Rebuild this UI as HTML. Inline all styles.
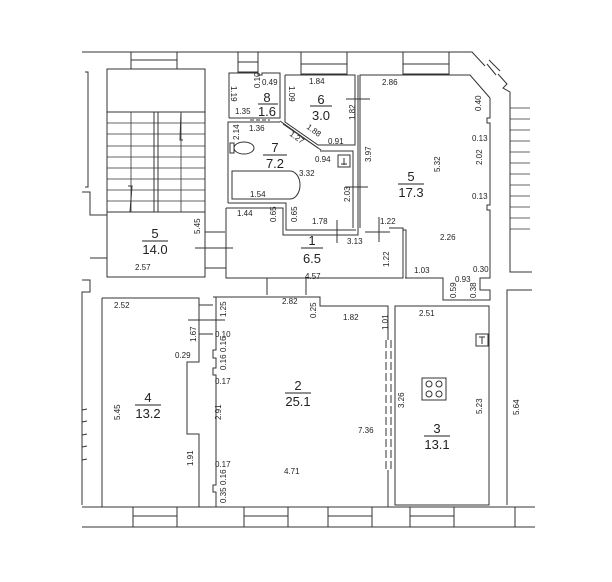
<!DOCTYPE html>
<html><head><meta charset="utf-8"><style>
html,body{margin:0;padding:0;background:#fff}
svg{display:block}
text{font-family:"Liberation Sans",sans-serif;fill:#222}
.s{font-size:8px}
.b{font-size:13px;font-family:"Liberation Serif",serif}
</style></head><body>
<svg width="612" height="582" viewBox="0 0 612 582" xmlns="http://www.w3.org/2000/svg">
<g fill="none" stroke="#333" stroke-width="1">
<polyline points="82,52 472,52 485,66"/>
<polyline points="498,74 507,84 503,88 510,92 510,272 532,272"/>
<line x1="487" y1="64" x2="496" y2="75"/><line x1="489" y1="60" x2="500" y2="71"/>
<g stroke-width="0.8">
<line x1="510" y1="108" x2="530" y2="108"/><line x1="510" y1="119" x2="530" y2="119"/>
<line x1="510" y1="130" x2="530" y2="130"/><line x1="510" y1="141" x2="530" y2="141"/>
<line x1="510" y1="152" x2="530" y2="152"/><line x1="510" y1="163" x2="530" y2="163"/>
<line x1="510" y1="174" x2="530" y2="174"/><line x1="510" y1="185" x2="530" y2="185"/>
<line x1="510" y1="196" x2="530" y2="196"/><line x1="510" y1="207" x2="530" y2="207"/>
<line x1="510" y1="218" x2="530" y2="218"/><line x1="510" y1="229" x2="530" y2="229"/>
</g>
<polyline points="532,290 507,290 507,505"/>
<line x1="82" y1="527" x2="535" y2="527"/>
<line x1="82" y1="507" x2="535" y2="507"/>
<polyline points="85,72 88,72 88,187 85,187"/>
<polyline points="82,192 90,192 90,215 107,215"/>
<polyline points="90,258 107,258"/><polyline points="82,280 90,280 90,292 82,292 82,505"/>
<rect x="131" y="52" width="46" height="17"/><line x1="131" y1="60" x2="177" y2="60"/>
<rect x="238" y="52" width="20" height="20"/><line x1="238" y1="62" x2="258" y2="62"/>
<rect x="301" y="52" width="46" height="22"/><line x1="301" y1="64" x2="347" y2="64"/>
<rect x="403" y="52" width="46" height="22"/><line x1="403" y1="64" x2="449" y2="64"/>
<rect x="107" y="69" width="98" height="208"/>
<line x1="107" y1="112" x2="205" y2="112"/>
<line x1="107" y1="212" x2="205" y2="212"/>
<g stroke-width="0.8">
<line x1="107" y1="123" x2="205" y2="123"/><line x1="107" y1="134" x2="205" y2="134"/>
<line x1="107" y1="146" x2="205" y2="146"/><line x1="107" y1="157" x2="205" y2="157"/>
<line x1="107" y1="168" x2="205" y2="168"/><line x1="107" y1="179" x2="205" y2="179"/>
<line x1="107" y1="190" x2="205" y2="190"/><line x1="107" y1="201" x2="205" y2="201"/>
<line x1="131" y1="112" x2="131" y2="212"/><line x1="181" y1="112" x2="181" y2="212"/>
</g>
<rect x="154" y="112" width="4" height="100"/>
<polyline points="181,113 180,140 183,140"/><polyline points="130,212 132,186 128,186"/>
<line x1="205" y1="232" x2="225" y2="232"/><line x1="195" y1="248" x2="233" y2="248"/>
<line x1="205" y1="268" x2="226" y2="268"/>
<polyline points="229,118 229,73 258,73 258,75 262,75 262,73 280,73 280,118 229,118"/>
<line x1="250" y1="120" x2="270" y2="120" stroke-dasharray="4,2"/>
<polyline points="285,75 355,75 355,145 318,145 285,122 285,75"/>
<line x1="346" y1="99" x2="370" y2="99"/>
<line x1="280" y1="121" x2="318" y2="148"/><line x1="283" y1="124" x2="321" y2="150"/>
<polyline points="228,203 228,122 280,122"/>
<polyline points="320,151 353,151 353,228"/>
<polyline points="228,203 286,203 286,230 356,230"/>
<rect x="338" y="155" width="12" height="12"/><line x1="344" y1="158" x2="344" y2="165"/><line x1="341" y1="164" x2="347" y2="164"/>
<path d="M232,171 L290,171 A10,14 0 0 1 290,199 L232,199 Z"/>
<rect x="230" y="143" width="4" height="10"/><ellipse cx="244" cy="148" rx="10" ry="6"/>
<line x1="345" y1="187" x2="368" y2="187"/>
<polyline points="226,208 226,278 403,278 403,228 389,228"/>
<polyline points="226,208 283,208 283,235 358,235 358,75"/>
<polyline points="360,228 360,75 470,75 490,98"/>
<line x1="337" y1="220" x2="337" y2="243"/><line x1="379" y1="217" x2="379" y2="242"/>
<line x1="365" y1="232" x2="390" y2="232"/>
<line x1="267" y1="278" x2="267" y2="295"/><line x1="306" y1="278" x2="306" y2="295"/>
<polyline points="490,98 490,118 487,118 487,123 490,123 490,205 487,205 487,210 490,210 490,278 480,278 480,290 490,290 490,300 443,300 443,278 405,278"/>
<polyline points="403,230 406,230 406,278"/>
<polyline points="102,298 199,298 199,362 187,362 187,434 199,434 199,507 102,507 102,298"/>
<line x1="199" y1="305" x2="213" y2="305"/><line x1="188" y1="320" x2="225" y2="320"/><line x1="199" y1="334" x2="213" y2="334"/>
<polyline points="213,297 320,297 320,306 388,306 388,507 216,507 216,492 213,492 213,485 216,485 216,375 213,375 213,368 216,368 216,358 213,358 213,350 216,350 216,297"/>
<line x1="388" y1="340" x2="388" y2="470" stroke="#fff" stroke-width="3"/>
<line x1="386" y1="340" x2="386" y2="470" stroke-dasharray="8,3"/><line x1="391" y1="340" x2="391" y2="470" stroke-dasharray="8,3"/>
<rect x="395" y="306" width="94" height="199"/>
<rect x="476" y="334" width="12" height="12"/><line x1="482" y1="337" x2="482" y2="344"/><line x1="479" y1="337" x2="485" y2="337"/>
<rect x="422" y="378" width="24" height="22"/>
<circle cx="429" cy="384" r="3"/><circle cx="439" cy="384" r="3"/><circle cx="429" cy="394" r="3"/><circle cx="439" cy="394" r="3"/>
<rect x="133" y="507" width="44" height="20"/><line x1="133" y1="516" x2="177" y2="516"/>
<rect x="244" y="507" width="44" height="20"/><line x1="244" y1="516" x2="288" y2="516"/>
<rect x="328" y="507" width="44" height="20"/><line x1="328" y1="516" x2="372" y2="516"/>
<rect x="410" y="507" width="44" height="20"/><line x1="410" y1="516" x2="454" y2="516"/>
<line x1="515" y1="507" x2="515" y2="527"/>
<line x1="82" y1="410" x2="87" y2="409"/><line x1="82" y1="422" x2="87" y2="421"/><line x1="82" y1="435" x2="87" y2="434"/><line x1="82" y1="447" x2="87" y2="446"/><line x1="82" y1="460" x2="87" y2="459"/>
</g>
<g class="b" text-anchor="middle">
<text x="155" y="238">5</text><line x1="142" y1="241" x2="168" y2="241" stroke="#222"/><text x="155" y="254">14.0</text>
<text x="267" y="102">8</text><line x1="258" y1="104" x2="278" y2="104" stroke="#222"/><text x="267" y="116">1.6</text>
<text x="321" y="104">6</text><line x1="310" y1="106" x2="332" y2="106" stroke="#222"/><text x="321" y="120">3.0</text>
<text x="275" y="152">7</text><line x1="263" y1="155" x2="287" y2="155" stroke="#222"/><text x="275" y="168">7.2</text>
<text x="312" y="245">1</text><line x1="301" y1="248" x2="323" y2="248" stroke="#222"/><text x="312" y="263">6.5</text>
<text x="411" y="181">5</text><line x1="398" y1="184" x2="424" y2="184" stroke="#222"/><text x="411" y="197">17.3</text>
<text x="148" y="402">4</text><line x1="135" y1="405" x2="161" y2="405" stroke="#222"/><text x="148" y="418">13.2</text>
<text x="298" y="390">2</text><line x1="285" y1="393" x2="311" y2="393" stroke="#222"/><text x="298" y="406">25.1</text>
<text x="437" y="433">3</text><line x1="424" y1="436" x2="450" y2="436" stroke="#222"/><text x="437" y="449">13.1</text>
</g>
<g class="s">
<text x="135" y="270">2.57</text>
<text x="235" y="114">1.35</text><text x="262" y="85">0.49</text>
<text x="309" y="84">1.84</text><text x="328" y="144">0.91</text>
<text x="249" y="131">1.36</text><text x="315" y="162">0.94</text>
<text x="299" y="176">3.32</text><text x="250" y="197">1.54</text>
<text x="237" y="216">1.44</text><text x="312" y="224">1.78</text><text x="347" y="244">3.13</text>
<text x="380" y="224">1.22</text><text x="305" y="279">4.57</text>
<text x="382" y="85">2.86</text><text x="472" y="141">0.13</text><text x="472" y="199">0.13</text>
<text x="440" y="240">2.26</text><text x="414" y="273">1.03</text><text x="473" y="272">0.30</text><text x="455" y="282">0.93</text>
<text x="114" y="308">2.52</text><text x="282" y="304">2.82</text><text x="343" y="320">1.82</text>
<text x="419" y="316">2.51</text><text x="175" y="358">0.29</text>
<text x="215" y="337">0.10</text><text x="215" y="384">0.17</text><text x="215" y="467">0.17</text>
<text x="284" y="474">4.71</text><text x="358" y="433">7.36</text>
</g>
<g class="s">
<text transform="translate(231,86) rotate(90)">1.19</text>
<text transform="translate(260,88) rotate(-90)">0.10</text>
<text transform="translate(289,86) rotate(90)">1.09</text>
<text transform="translate(355,120) rotate(-90)">1.82</text>
<text transform="translate(306,128) rotate(36)">1.88</text>
<text transform="translate(289,135) rotate(36)">1.27</text>
<text transform="translate(239,140) rotate(-90)">2.14</text>
<text transform="translate(371,162) rotate(-90)">3.97</text>
<text transform="translate(350,202) rotate(-90)">2.03</text>
<text transform="translate(297,222) rotate(-90)">0.65</text>
<text transform="translate(276,222) rotate(-90)">0.65</text>
<text transform="translate(200,234) rotate(-90)">5.45</text>
<text transform="translate(389,267) rotate(-90)">1.22</text>
<text transform="translate(481,111) rotate(-90)">0.40</text>
<text transform="translate(482,165) rotate(-90)">2.02</text>
<text transform="translate(440,172) rotate(-90)">5.32</text>
<text transform="translate(456,298) rotate(-90)">0.59</text>
<text transform="translate(476,298) rotate(-90)">0.38</text>
<text transform="translate(316,318) rotate(-90)">0.25</text>
<text transform="translate(388,330) rotate(-90)">1.01</text>
<text transform="translate(226,317) rotate(-90)">1.25</text>
<text transform="translate(196,342) rotate(-90)">1.67</text>
<text transform="translate(226,352) rotate(-90)">0.16</text>
<text transform="translate(226,370) rotate(-90)">0.16</text>
<text transform="translate(120,420) rotate(-90)">5.45</text>
<text transform="translate(221,420) rotate(-90)">2.91</text>
<text transform="translate(193,466) rotate(-90)">1.91</text>
<text transform="translate(226,485) rotate(-90)">0.16</text>
<text transform="translate(226,503) rotate(-90)">0.35</text>
<text transform="translate(404,408) rotate(-90)">3.26</text>
<text transform="translate(482,414) rotate(-90)">5.23</text>
<text transform="translate(519,415) rotate(-90)">5.64</text>
</g>
</svg>
</body></html>
